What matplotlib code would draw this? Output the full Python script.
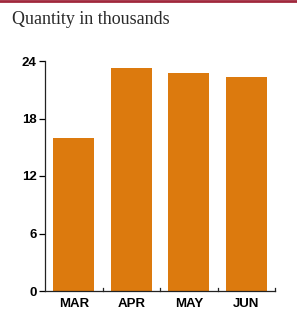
import matplotlib
matplotlib.use('Agg')
import matplotlib.pyplot as plt
from matplotlib.lines import Line2D

months = ['MAR', 'APR', 'MAY', 'JUN']
quantity = [16.0, 23.3, 22.75, 22.3]
yticks = [0, 6, 12, 18, 24]

bar_color = '#DC7A0E'
tick_font = ['Liberation Sans', 'DejaVu Sans']

fig = plt.figure(figsize=(2.97, 3.15), dpi=100)
ax = fig.add_axes([45 / 297, 24 / 315, 230 / 297, 230 / 315])

pos = list(range(len(months)))
ax.bar(pos, quantity, width=0.71, color=bar_color, zorder=2)

ax.set_xlim(-0.5, len(months) - 0.5)
ax.set_ylim(0, 24)

ax.set_yticks(yticks)
ax.set_yticklabels([str(v) for v in yticks], family=tick_font,
                   fontweight='bold', fontsize=9.5)
ax.set_xticks(pos)
ax.set_xticklabels(months, family=tick_font, fontweight='bold', fontsize=9.5)
ax.tick_params(axis='x', length=0, pad=5)
ax.tick_params(axis='y', length=4, width=0.9, pad=2, direction='out')

for s in ['top', 'right']:
    ax.spines[s].set_visible(False)
for s in ['left', 'bottom']:
    ax.spines[s].set_linewidth(0.9)
    ax.spines[s].set_color('#222222')

# little category separators on the baseline
for b in [p + 0.5 for p in pos]:
    ax.plot([b, b], [0, 0.35], color='#222222', lw=0.9, clip_on=False)

fig.text(12 / 297, 1 - 19 / 315, 'Quantity in thousands',
         family=['Liberation Serif', 'DejaVu Serif'], fontsize=13,
         color='#2a2a2a', va='center', ha='left')

fig.add_artist(Line2D([0, 1], [1 - 1 / 315, 1 - 1 / 315],
                      color='#A0283C', lw=2.0, transform=fig.transFigure))

fig.savefig('out.png', dpi=100)
